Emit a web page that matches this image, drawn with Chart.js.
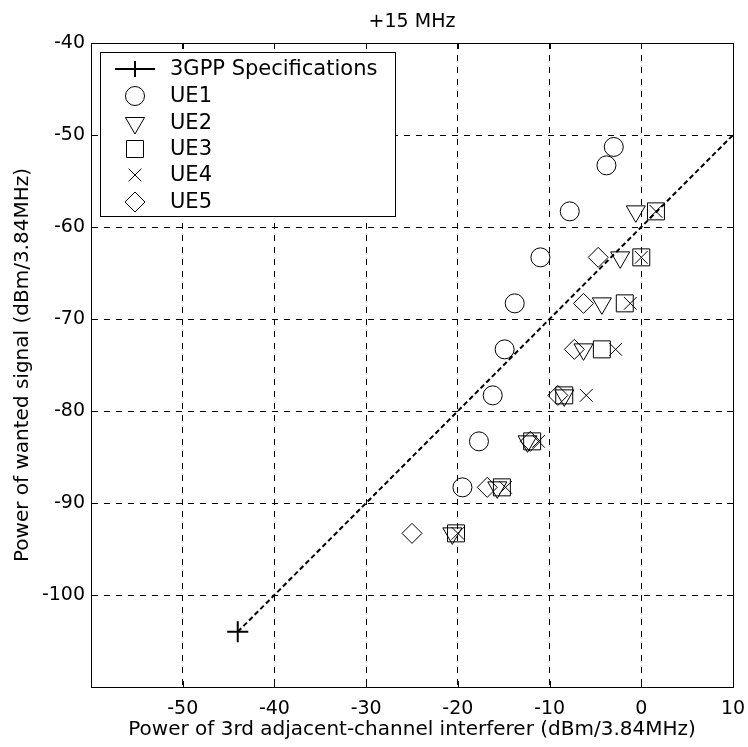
<!DOCTYPE html>
<html>
<head>
<meta charset="utf-8">
<title>+15 MHz</title>
<script src="https://cdn.jsdelivr.net/npm/chart.js@4.4.1/dist/chart.umd.min.js"></script>
<style>
  html, body { margin: 0; padding: 0; background: #fff; }
  canvas { display: block; }
</style>
</head>
<body>
<canvas id="grafico" width="748" height="747"></canvas>
<script>
// Dados
const yTicks = [-110, -100, -90, -80, -70, -60, -50, -40];
const xTicks = [-60, -50, -40, -30, -20, -10, 0, 10];

const specX = [-44, 10];
const specY = [-104, -50];

const ue1X = [-3.0, -3.8, -7.8, -11.0, -13.8, -14.9, -16.2, -17.7, -19.5];
const ue1Y = [-51.3, -53.3, -58.3, -63.3, -68.3, -73.3, -78.3, -83.3, -88.3];

const ue2X = [-0.6, -2.3, -4.3, -6.3, -8.4, -12.4, -15.7, -20.6];
const ue2Y = [-58.3, -63.3, -68.3, -73.3, -78.3, -83.3, -88.3, -93.3];

const ue3X = [1.6, 0.0, -1.8, -4.3, -8.4, -11.9, -15.2, -20.2];
const ue3Y = [-58.3, -63.3, -68.3, -73.3, -78.3, -83.3, -88.3, -93.3];

const ue4X = [1.6, 0.0, -1.2, -2.8, -6.0, -11.2, -14.8, -20.0];
const ue4Y = [-58.3, -63.3, -68.3, -73.3, -78.3, -83.3, -88.3, -93.3];

const ue5X = [-4.7, -6.3, -7.3, -9.1, -12.1, -16.8, -25.0];
const ue5Y = [-63.3, -68.3, -73.3, -78.3, -83.3, -88.3, -93.3];

const titulo = "+15 MHz";

const pares = (xs, ys) => xs.map((x, i) => ({ x: x, y: ys[i] }));
const FONTE = "'DejaVu Sans', sans-serif";

function marcador(label, xs, ys, estilo, raio, rot) {
  return {
    label: label,
    data: pares(xs, ys),
    showLine: false,
    pointStyle: estilo,
    pointRadius: raio,
    pointRotation: rot || 0,
    pointBorderColor: "#000",
    pointBackgroundColor: "rgba(0,0,0,0)",
    pointBorderWidth: 1
  };
}

const datasets = [
  {
    label: "3GPP Specifications",
    data: pares(specX, specY),
    showLine: true,
    borderColor: "#000",
    borderWidth: 2,
    borderDash: [5, 3],
    pointStyle: "cross",
    pointRadius: [10.5, 0],
    pointBorderColor: "#000",
    pointBorderWidth: 2
  },
  marcador("UE1", ue1X, ue1Y, "circle", 9.5),
  marcador("UE2", ue2X, ue2Y, "triangle", 11, 180),
  marcador("UE3", ue3X, ue3Y, "rect", 12),
  marcador("UE4", ue4X, ue4Y, "crossRot", 9),
  marcador("UE5", ue5X, ue5Y, "rectRot", 10)
];

// moldura da área + marcas internas dos ticks + título centrado na área
const moldura = {
  id: "moldura",
  afterDraw(chart) {
    const { ctx, chartArea: a, scales } = chart;
    ctx.save();
    ctx.strokeStyle = "#000";
    ctx.lineWidth = 1;
    ctx.beginPath();
    xTicks.forEach(v => {
      const px = Math.round(scales.x.getPixelForValue(v)) + 0.5;
      ctx.moveTo(px, a.bottom); ctx.lineTo(px, a.bottom - 6);
      ctx.moveTo(px, a.top); ctx.lineTo(px, a.top + 6);
    });
    yTicks.forEach(v => {
      const py = Math.round(scales.y.getPixelForValue(v)) + 0.5;
      ctx.moveTo(a.left, py); ctx.lineTo(a.left + 6, py);
      ctx.moveTo(a.right, py); ctx.lineTo(a.right - 6, py);
    });
    ctx.stroke();
    ctx.strokeRect(Math.round(a.left) + 0.5, Math.round(a.top) + 0.5,
      Math.round(a.right - a.left), Math.round(a.bottom - a.top));

    ctx.fillStyle = "#000";
    ctx.font = "19px " + FONTE;
    ctx.textAlign = "center";
    ctx.textBaseline = "alphabetic";
    ctx.fillText(titulo, (a.left + a.right) / 2, 27);
    ctx.restore();
  }
};

// legenda dentro do gráfico, com caixa
const legenda = {
  id: "legenda",
  afterDraw(chart) {
    const { ctx, chartArea: a } = chart;
    const x0 = a.left + 9, y0 = a.top + 9, w = 295, h = 164;
    const linhas = [69, 96, 123, 149, 175, 202].map(v => v - 43 + a.top);
    const mx = x0 + 35;
    ctx.save();
    ctx.fillStyle = "#fff";
    ctx.fillRect(x0, y0, w, h);
    ctx.strokeStyle = "#000";
    ctx.lineWidth = 1;
    ctx.strokeRect(x0 + 0.5, y0 + 0.5, w, h);

    chart.data.datasets.forEach((ds, i) => {
      const y = linhas[i];
      ctx.strokeStyle = "#000";
      if (i === 0) {
        ctx.lineWidth = 2;
        ctx.beginPath();
        ctx.moveTo(mx - 20, y); ctx.lineTo(mx + 20, y);
        ctx.moveTo(mx, y - 8); ctx.lineTo(mx, y + 8);
        ctx.stroke();
      } else if (Chart.helpers && Chart.helpers.drawPoint) {
        ctx.lineWidth = 1;
        ctx.fillStyle = "rgba(0,0,0,0)";
        Chart.helpers.drawPoint(ctx, {
          pointStyle: ds.pointStyle,
          radius: ds.pointRadius,
          rotation: ds.pointRotation,
          borderWidth: 1
        }, mx, y);
      }
      ctx.fillStyle = "#000";
      ctx.font = "21px " + FONTE;
      ctx.textAlign = "left";
      ctx.textBaseline = "middle";
      ctx.fillText(ds.label, x0 + 70, y + 1);
    });
    ctx.restore();
  }
};

const ctx = document.getElementById("grafico").getContext("2d");
new Chart(ctx, {
  type: "scatter",
  data: { datasets: datasets },
  options: {
    responsive: false,
    animation: false,
    events: [],
    layout: { padding: { left: 0, right: 15, top: 43, bottom: 0 } },
    plugins: {
      legend: { display: false },
      tooltip: { enabled: false },
      title: { display: false }
    },
    scales: {
      x: {
        type: "linear",
        min: -60,
        max: 10,
        afterFit: s => { s.height = 60; s.paddingLeft = 0; s.paddingRight = 0; },
        afterBuildTicks: s => { s.ticks = xTicks.map(v => ({ value: v })); },
        ticks: {
          color: "#000",
          font: { family: FONTE, size: 19 },
          padding: 11,
          callback: v => (v === -60 ? "" : v)
        },
        grid: { color: "#000", lineWidth: 1, drawTicks: false },
        border: { display: true, color: "#000", width: 1, dash: [6, 6] },
        title: {
          display: true,
          text: "Power of 3rd adjacent-channel interferer (dBm/3.84MHz)",
          color: "#000",
          font: { family: FONTE, size: 20 },
          padding: { top: 0, bottom: 5 }
        }
      },
      y: {
        type: "linear",
        min: -110,
        max: -40,
        afterFit: s => { s.width = 91; s.paddingTop = 0; s.paddingBottom = 0; },
        afterBuildTicks: s => { s.ticks = yTicks.map(v => ({ value: v })); },
        ticks: {
          color: "#000",
          font: { family: FONTE, size: 19 },
          padding: 6,
          callback: v => (v === -110 ? "" : v)
        },
        grid: { color: "#000", lineWidth: 1, drawTicks: false },
        border: { display: true, color: "#000", width: 1, dash: [6, 6] },
        title: {
          display: true,
          text: "Power of wanted signal (dBm/3.84MHz)",
          color: "#000",
          font: { family: FONTE, size: 20 },
          padding: { top: 11, bottom: 0 }
        }
      }
    }
  },
  plugins: [moldura, legenda]
});
</script>
</body>
</html>
